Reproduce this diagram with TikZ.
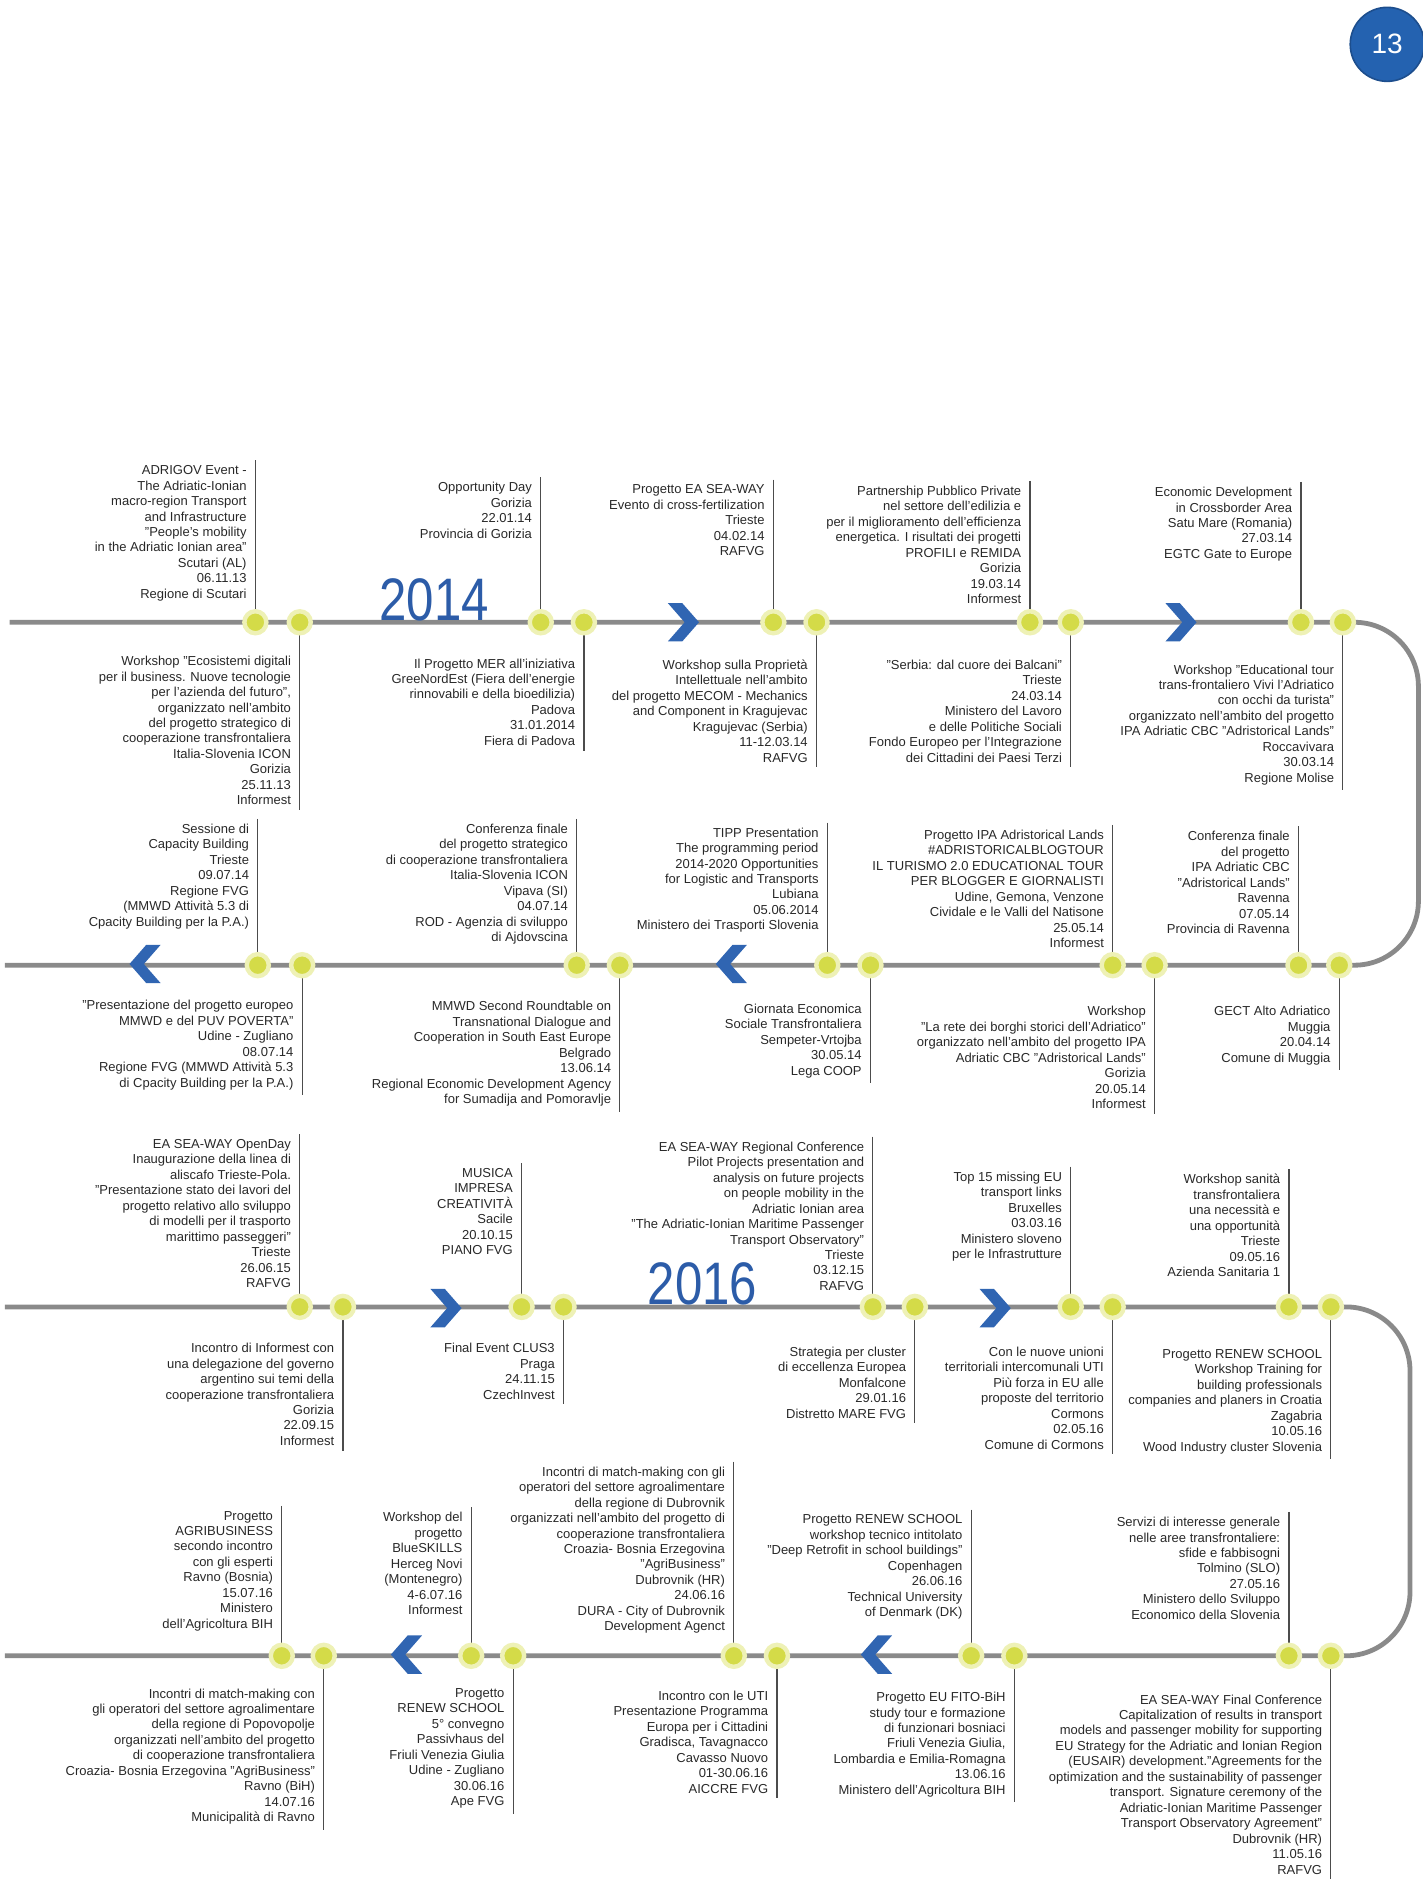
\documentclass[tikz,border=0pt]{standalone}
\usepackage{fontspec}
\setmainfont{Liberation Sans}
\usepackage{graphicx}
\definecolor{dotc}{RGB}{212,219,72}
\definecolor{lineg}{RGB}{138,138,138}
\definecolor{chevb}{RGB}{48,101,178}
\definecolor{yearb}{RGB}{44,92,168}
\definecolor{pgblue}{RGB}{36,98,176}
\definecolor{txtc}{RGB}{40,40,40}
\tikzset{
  tline/.style={draw=lineg, line width=2.4pt},
  vline/.style={draw=black!70, line width=0.6pt},
  evtxt/.style={font={\fontsize{6.5}{7.73}\selectfont}, align=right, inner sep=0pt, anchor=north east, text=txtc},
  dot/.style={circle, fill=dotc, draw=dotc!40, line width=2.2pt, minimum size=11pt, inner sep=0pt},
  chev/.style={fill=chevb},
  yearlbl/.style={font={\fontsize{30}{30}\selectfont}, text=yearb, inner sep=0pt},
}
\newcommand\evup[5]{%
  \coordinate (p#1) at (#2,#3);
  \node[evtxt] (t#1) at (#2-7,#4-5) {#5};
  \draw[vline] (p#1 |- t#1.north) ++(0,-4) -- (p#1);
  \node[dot] (d#1) at (p#1) {};
}
\newcommand\evdn[5]{%
  \coordinate (p#1) at (#2,#3);
  \node[evtxt] (t#1) at (#2-7,#4-5) {#5};
  \draw[vline] (p#1) -- (p#1 |- t#1.south) -- ++(0,4);
  \node[dot] (d#1) at (p#1) {};
}
\newcommand\chevR[2]{\fill[chev] (#1-13,#2-16) -- (#1-1,#2-16) -- (#1+13,#2) -- (#1-1,#2+16) -- (#1-13,#2+16) -- (#1+1,#2) -- cycle;}
\newcommand\chevL[2]{\fill[chev] (#1+13,#2-16) -- (#1+1,#2-16) -- (#1-13,#2) -- (#1+1,#2+16) -- (#1+13,#2+16) -- (#1-1,#2) -- cycle;}
\begin{document}
\begin{tikzpicture}[x=0.59949pt, y=-0.59949pt]
\useasboundingbox (0,0) rectangle (1186,1568);
% page number
\node[circle, fill=pgblue, draw=pgblue!80!black, line width=0.8pt, minimum size=37pt, inner sep=0pt, text=white, font={\fontsize{14}{14}\selectfont}] (pg) at (1157,37) {13};
% timelines
\coordinate (r1a) at (8,519);
\coordinate (k1) at (1183,519);
\coordinate (k2) at (1183,805);
\coordinate (r2a) at (4,805);
\coordinate (r3a) at (4,1090);
\coordinate (k3) at (1176,1090);
\coordinate (k4) at (1176,1381);
\coordinate (r4a) at (4,1381);
\draw[tline, rounded corners=32pt] (r1a) -- (k1) -- (k2) -- (r2a);
\draw[tline, rounded corners=32pt] (r3a) -- (k3) -- (k4) -- (r4a);
% chevrons
\chevR{570}{519}
\chevR{985}{519}
\chevL{121}{804}
\chevL{610}{804}
\chevR{372}{1091}
\chevR{830}{1091}
\chevL{339}{1380}
\chevL{731}{1380}
% years
\node[yearlbl] (y14) at (362,500) {\scalebox{0.82}[1]{2014}};
\node[yearlbl] (y16) at (586,1071) {\scalebox{0.82}[1]{2016}};
% ---------- row 1 ----------
\evup{a1}{213}{519}{393}{ADRIGOV Event -\\The Adriatic-Ionian\\macro-region Transport\\and Infrastructure\\"People's mobility\\in the Adriatic Ionian area"\\Scutari (AL)\\06.11.13\\Regione di Scutari}
\evdn{a2}{250}{519}{552}{Workshop "Ecosistemi digitali\\per il business. Nuove tecnologie\\per l'azienda del futuro",\\organizzato nell'ambito\\del progetto strategico di\\cooperazione transfrontaliera\\Italia-Slovenia ICON\\Gorizia\\25.11.13\\Informest}
\evup{a3}{451}{519}{407}{Opportunity Day\\Gorizia\\22.01.14\\Provincia di Gorizia}
\evdn{a4}{487}{519}{554}{Il Progetto MER all'iniziativa\\GreeNordEst (Fiera dell'energie\\rinnovabili e della bioedilizia)\\Padova\\31.01.2014\\Fiera di Padova}
\evup{a5}{645}{519}{409}{Progetto EA SEA-WAY\\Evento di cross-fertilization\\Trieste\\04.02.14\\RAFVG}
\evdn{a6}{681}{519}{555}{Workshop sulla Proprietà\\Intellettuale nell'ambito\\del progetto MECOM - Mechanics\\and Component in Kragujevac\\Kragujevac (Serbia)\\11-12.03.14\\RAFVG}
\evup{a7}{859}{519}{410}{Partnership Pubblico Private\\nel settore dell'edilizia e\\per il miglioramento dell'efficienza\\energetica. I risultati dei progetti\\PROFILI e REMIDA\\Gorizia\\19.03.14\\Informest}
\evdn{a8}{893}{519}{555}{"Serbia: dal cuore dei Balcani"\\Trieste\\24.03.14\\Ministero del Lavoro\\e delle Politiche Sociali\\Fondo Europeo per l'Integrazione\\dei Cittadini dei Paesi Terzi}
\evup{a9}{1085}{519}{411}{Economic Development\\in Crossborder Area\\Satu Mare (Romania)\\27.03.14\\EGTC Gate to Europe}
\evdn{a10}{1120}{519}{559}{Workshop "Educational tour\\trans-frontaliero Vivi l'Adriatico\\con occhi da turista"\\organizzato nell'ambito del progetto\\IPA Adriatic CBC "Adristorical Lands"\\Roccavivara\\30.03.14\\Regione Molise}
% ---------- row 2 ----------
\evup{b1}{215}{805}{692}{Sessione di\\Capacity Building\\Trieste\\09.07.14\\Regione FVG\\(MMWD Attività 5.3 di\\Cpacity Building per la P.A.)}
\evdn{b2}{252}{805}{839}{"Presentazione del progetto europeo\\MMWD e del PUV POVERTA"\\Udine - Zugliano\\08.07.14\\Regione FVG (MMWD Attività 5.3\\di Cpacity Building per la P.A.)}
\evup{b3}{481}{805}{692}{Conferenza finale\\del progetto strategico\\di cooperazione transfrontaliera\\Italia-Slovenia ICON\\Vipava (SI)\\04.07.14\\ROD - Agenzia di sviluppo\\di Ajdovscina}
\evdn{b4}{517}{805}{840}{MMWD Second Roundtable on\\Transnational Dialogue and\\Cooperation in South East Europe\\Belgrado\\13.06.14\\Regional Economic Development Agency\\for Sumadija and Pomoravlje}
\evup{b5}{690}{805}{695}{TIPP Presentation\\The programming period\\2014-2020 Opportunities\\for Logistic and Transports\\Lubiana\\05.06.2014\\Ministero dei Trasporti Slovenia}
\evdn{b6}{726}{805}{842}{Giornata Economica\\Sociale Transfrontaliera\\Sempeter-Vrtojba\\30.05.14\\Lega COOP}
\evup{b7}{928}{805}{697}{Progetto IPA Adristorical Lands\\\#ADRISTORICALBLOGTOUR\\IL TURISMO 2.0 EDUCATIONAL TOUR\\PER BLOGGER E GIORNALISTI\\Udine, Gemona, Venzone\\Cividale e le Valli del Natisone\\25.05.14\\Informest}
\evdn{b8}{963}{805}{844}{Workshop\\"La rete dei borghi storici dell'Adriatico"\\organizzato nell'ambito del progetto IPA\\Adriatic CBC "Adristorical Lands"\\Gorizia\\20.05.14\\Informest}
\evup{b9}{1083}{805}{698}{Conferenza finale\\del progetto\\IPA Adriatic CBC\\"Adristorical Lands"\\Ravenna\\07.05.14\\Provincia di Ravenna}
\evdn{b10}{1117}{805}{844}{GECT Alto Adriatico\\Muggia\\20.04.14\\Comune di Muggia}
% ---------- row 3 ----------
\evup{c1}{250}{1090}{955}{EA SEA-WAY OpenDay\\Inaugurazione della linea di\\aliscafo Trieste-Pola.\\"Presentazione stato dei lavori del\\progetto relativo allo sviluppo\\di modelli per il trasporto\\marittimo passeggeri"\\Trieste\\26.06.15\\RAFVG}
\evdn{c2}{286}{1090}{1125}{Incontro di Informest con\\una delegazione del governo\\argentino sui temi della\\cooperazione transfrontaliera\\Gorizia\\22.09.15\\Informest}
\evup{c3}{435}{1090}{979}{MUSICA\\IMPRESA\\CREATIVITÀ\\Sacile\\20.10.15\\PIANO FVG}
\evdn{c4}{470}{1090}{1125}{Final Event CLUS3\\Praga\\24.11.15\\CzechInvest}
\evup{c5}{728}{1090}{957}{EA SEA-WAY Regional Conference\\Pilot Projects presentation and\\analysis on future projects\\on people mobility in the\\Adriatic Ionian area\\"The Adriatic-Ionian Maritime Passenger\\Transport Observatory"\\Trieste\\03.12.15\\RAFVG}
\evdn{c6}{763}{1090}{1128}{Strategia per cluster\\di eccellenza Europea\\Monfalcone\\29.01.16\\Distretto MARE FVG}
\evup{c7}{893}{1090}{982}{Top 15 missing EU\\transport links\\Bruxelles\\03.03.16\\Ministero sloveno\\per le Infrastrutture}
\evdn{c8}{928}{1090}{1128}{Con le nuove unioni\\territoriali intercomunali UTI\\Più forza in EU alle\\proposte del territorio\\Cormons\\02.05.16\\Comune di Cormons}
\evup{c9}{1075}{1090}{984}{Workshop sanità\\transfrontaliera\\una necessità e\\una opportunità\\Trieste\\09.05.16\\Azienda Sanitaria 1}
\evdn{c10}{1110}{1090}{1130}{Progetto RENEW SCHOOL\\Workshop Training for\\building professionals\\companies and planers in Croatia\\Zagabria\\10.05.16\\Wood Industry cluster Slovenia}
% ---------- row 4 ----------
\evup{e1}{235}{1381}{1265}{Progetto\\AGRIBUSINESS\\secondo incontro\\con gli esperti\\Ravno (Bosnia)\\15.07.16\\Ministero\\dell'Agricoltura BIH}
\evdn{e2}{270}{1381}{1413}{Incontri di match-making con\\gli operatori del settore agroalimentare\\della regione di Popovopolje\\organizzati nell'ambito del progetto\\di cooperazione transfrontaliera\\Croazia- Bosnia Erzegovina "AgriBusiness"\\Ravno (BiH)\\14.07.16\\Municipalità di Ravno}
\evup{e3}{393}{1381}{1266}{Workshop del\\progetto\\BlueSKILLS\\Herceg Novi\\(Montenegro)\\4-6.07.16\\Informest}
\evdn{e4}{428}{1381}{1413}{Progetto\\RENEW SCHOOL\\5° convegno\\Passivhaus del\\Friuli Venezia Giulia\\Udine - Zugliano\\30.06.16\\Ape FVG}
\evup{e5}{612}{1381}{1228}{Incontri di match-making con gli\\operatori del settore agroalimentare\\della regione di Dubrovnik\\organizzati nell'ambito del progetto di\\cooperazione transfrontaliera\\Croazia- Bosnia Erzegovina\\"AgriBusiness"\\Dubrovnik (HR)\\24.06.16\\DURA - City of Dubrovnik\\Development Agenct}
\evdn{e6}{648}{1381}{1415}{Incontro con le UTI\\Presentazione Programma\\Europa per i Cittadini\\Gradisca, Tavagnacco\\Cavasso Nuovo\\01-30.06.16\\AICCRE FVG}
\evup{e7}{810}{1381}{1268}{Progetto RENEW SCHOOL\\workshop tecnico intitolato\\"Deep Retrofit in school buildings"\\Copenhagen\\26.06.16\\Technical University\\of Denmark (DK)}
\evdn{e8}{846}{1381}{1416}{Progetto EU FITO-BiH\\study tour e formazione\\di funzionari bosniaci\\Friuli Venezia Giulia,\\Lombardia e Emilia-Romagna\\13.06.16\\Ministero dell'Agricoltura BIH}
\evup{e9}{1075}{1381}{1270}{Servizi di interesse generale\\nelle aree transfrontaliere:\\sfide e fabbisogni\\Tolmino (SLO)\\27.05.16\\Ministero dello Sviluppo\\Economico della Slovenia}
\evdn{e10}{1110}{1381}{1418}{EA SEA-WAY Final Conference\\Capitalization of results in transport\\models and passenger mobility for supporting\\EU Strategy for the Adriatic and Ionian Region\\(EUSAIR) development."Agreements for the\\optimization and the sustainability of passenger\\transport. Signature ceremony of the\\Adriatic-Ionian Maritime Passenger\\Transport Observatory Agreement"\\Dubrovnik (HR)\\11.05.16\\RAFVG}
\end{tikzpicture}
\end{document}
